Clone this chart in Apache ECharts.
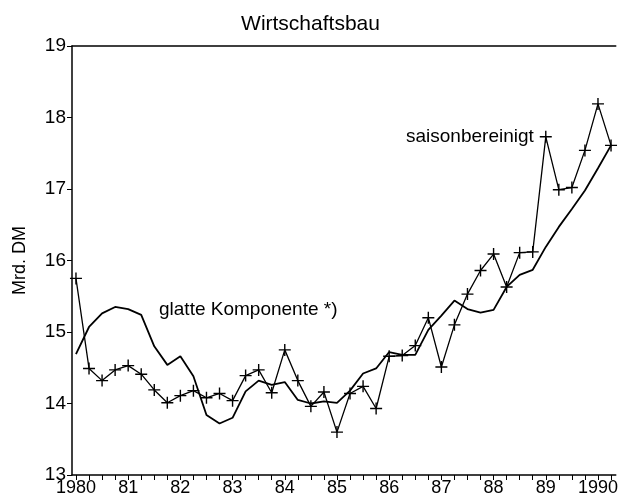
<!DOCTYPE html>
<html lang="de">
<head>
    <meta charset="UTF-8">
    <title>Wirtschaftsbau</title>
    <script src="https://cdn.jsdelivr.net/npm/echarts@6/dist/echarts.min.js"></script>
    <style>
        html, body { margin: 0; padding: 0; background: #fff; }
    </style>
</head>
<body>
<div class="container" style="width: 621px;height:504px;"></div>
<script>
    // quarterly values, 1980 Q1 .. 1990 Q2, Mrd. DM
    let startYear = 1980;
    let saisonbereinigt = [15.75, 14.49, 14.32, 14.47, 14.53, 14.41, 14.19, 14.01, 14.11, 14.18,
        14.08, 14.14, 14.04, 14.39, 14.47, 14.15, 14.75, 14.32, 13.96, 14.16,
        13.60, 14.14, 14.24, 13.93, 14.66, 14.67, 14.81, 15.20, 14.51, 15.10,
        15.53, 15.86, 16.09, 15.63, 16.11, 16.12, 17.73, 16.99, 17.02, 17.54,
        18.19, 17.61];
    let glatteKomponente = [14.69, 15.07, 15.26, 15.35, 15.32, 15.24, 14.80, 14.54, 14.66, 14.38,
        13.84, 13.72, 13.80, 14.17, 14.32, 14.26, 14.30, 14.05, 14.00, 14.03,
        14.01, 14.18, 14.42, 14.49, 14.72, 14.68, 14.68, 15.03, 15.23, 15.44,
        15.32, 15.27, 15.31, 15.63, 15.80, 15.87, 16.19, 16.47, 16.72, 16.98,
        17.29, 17.61];
    let yearTicks = [1980, 1981, 1982, 1983, 1984, 1985, 1986, 1987, 1988, 1989, 1990];

    let font = "'Liberation Sans', Arial, sans-serif";
    let plus = 'path://M0,5.3H12V6.7H0Z M5.3,0H6.7V12H5.3Z';

    let toPoints = arr => arr.map((v, i) => [startYear + i / 4, v]);
    let quarterTicks = saisonbereinigt.map((v, i) => startYear + i / 4);

    let container = document.querySelector('.container');
    let mycharts = echarts.init(container);

    let xMin = 1979.924, xMax = 1990.34;

    let option = {
        animation: false,
        backgroundColor: '#fff',
        textStyle: { fontFamily: font, color: '#000' },
        title: {
            text: 'Wirtschaftsbau',
            left: 'center',
            top: 9,
            textStyle: { fontFamily: font, fontSize: 21, fontWeight: 'normal', color: '#000' }
        },
        grid: { left: 72, right: 1, top: 46, bottom: 29 },
        xAxis: [{
            type: 'value',
            min: xMin,
            max: xMax,
            axisLine: { onZero: false, lineStyle: { color: '#000', width: 1.5 } },
            axisTick: { customValues: quarterTicks, length: 5, lineStyle: { color: '#000', width: 1 } },
            axisLabel: {
                customValues: yearTicks,
                margin: 4,
                fontFamily: font,
                fontSize: 18,
                color: '#000',
                formatter: v => (v == 1980 || v == 1990) ? String(v) : String(v).slice(2)
            },
            splitLine: { show: false }
        }, {
            type: 'value',
            position: 'top',
            min: xMin,
            max: xMax,
            axisLine: { show: true, onZero: false, lineStyle: { color: '#000', width: 1.5 } },
            axisTick: { show: false },
            axisLabel: { show: false },
            splitLine: { show: false }
        }],
        yAxis: {
            type: 'value',
            min: 13,
            max: 19,
            interval: 1,
            name: 'Mrd. DM',
            nameLocation: 'middle',
            nameGap: 43,
            nameTextStyle: { fontFamily: font, fontSize: 18, color: '#000' },
            axisLine: { show: true, onZero: false, lineStyle: { color: '#000', width: 1.5 } },
            axisTick: { show: true, length: 5, lineStyle: { color: '#000' } },
            axisLabel: { margin: 6, fontFamily: font, fontSize: 19, color: '#000' },
            splitLine: { show: false }
        },
        graphic: [{
            type: 'text',
            left: 159,
            top: 300,
            style: { text: 'glatte Komponente *)', font: '19px ' + font, fill: '#000' }
        }, {
            type: 'text',
            left: 406,
            top: 127,
            style: { text: 'saisonbereinigt', font: '19px ' + font, fill: '#000' }
        }],
        series: [{
            name: 'glatte Komponente',
            type: 'line',
            data: toPoints(glatteKomponente),
            showSymbol: false,
            lineStyle: { color: '#000', width: 1.8 },
            z: 2
        }, {
            name: 'saisonbereinigt',
            type: 'line',
            data: toPoints(saisonbereinigt),
            symbol: plus,
            symbolSize: 12,
            itemStyle: { color: '#000' },
            lineStyle: { color: '#000', width: 1.3 },
            z: 3
        }]
    };

    mycharts.setOption(option);
</script>
</body>
</html>
